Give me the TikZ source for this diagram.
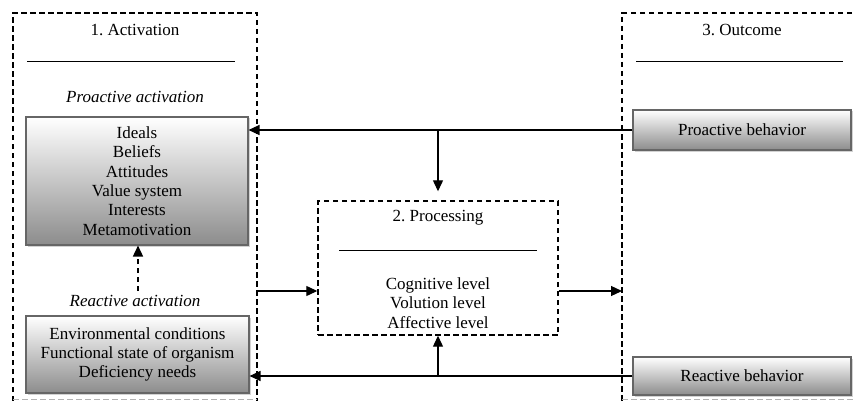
\documentclass[tikz,border=0pt]{standalone}
\usepackage{fontspec}
\setmainfont{Liberation Serif}
\frenchspacing
\usetikzlibrary{shadows,arrows.meta,calc}
\begin{document}
\begin{tikzpicture}[x=1pt,y=-1pt,
  font=\fontsize{17}{19.4}\selectfont,
  grad/.style={draw=black!60, line width=1.1pt, top color=white, bottom color=black!45,
    drop shadow={shadow xshift=1.5pt,shadow yshift=-1.5pt,opacity=0.35},
    inner sep=0pt, align=center},
  frame/.style={draw, line width=1.4pt, dash pattern=on 5.5pt off 3.5pt},
  conn/.style={line width=1.2pt, -{Triangle[length=11pt,width=10pt]}},
  rulestyle/.style={line width=0.9pt},
  lbl/.style={inner sep=0pt, align=center},
]
\clip (0,0) rectangle (853,401);
\fill[white] (0,0) rectangle (853,401);

% frames
\draw[frame] (13,401) -- (13,13) -- (257,13) -- (257,401);
\draw[frame, draw=black!30] (13,399.5) -- (257,399.5);
\draw[frame] (870,13) -- (622,13) -- (622,401);
\draw[frame, draw=black!30] (622,399.5) -- (853,399.5);
\node[frame, minimum width=240pt, minimum height=134pt, inner sep=0pt] (pr) at (438,268) {};

% titles and rules
\node[lbl] (t1) at (135,30) {1.\ Activation};
\draw[rulestyle] (27,61) -- (235,61);
\node[lbl] (t3) at (742,30) {3.\ Outcome};
\draw[rulestyle] (636,61) -- (843,61);
\node[lbl] (t2) at (438,218) {2.\ Processing};
\draw[rulestyle] (339,250) -- (537,250);
\node[lbl] (plev) at (438,303) {Cognitive level\\Volution level\\Affective level};

\node[lbl, font=\fontsize{17}{19.4}\selectfont\itshape] (plab) at (135,97) {Proactive activation};
\node[lbl, font=\fontsize{17}{19.4}\selectfont\itshape] (rlab) at (135,301) {Reactive activation};

% boxes
\node[grad, minimum width=222pt, minimum height=128pt] (pa) at (137,181)
  {Ideals\\Beliefs\\Attitudes\\Value system\\Interests\\Metamotivation};
\node[grad, minimum width=223pt, minimum height=77pt] (ra) at (137.5,354.5)
  {Environmental conditions\\Functional state of organism\\Deficiency needs};
\node[grad, minimum width=218pt, minimum height=40pt] (pb) at (742,130) {Proactive behavior};
\node[grad, minimum width=218pt, minimum height=38pt] (rb) at (742,376) {Reactive behavior};

% connectors
\coordinate (actR) at (257,291);
\coordinate (outL) at (622,291);
\coordinate (dstart) at ([xshift=3pt,yshift=4pt]rlab.north);
\draw[conn] (pb.west) -- (pa.east |- pb.west);
\draw[conn] (pb.west -| pr.north) -- ($(pr.north)+(0,-9)$);
\draw[conn] (rb.west) -- (ra.east |- rb.west);
\draw[conn] (rb.west -| pr.south) -- (pr.south);
\draw[conn] (actR) -- (pr.west |- actR);
\draw[conn] (pr.east |- outL) -- (outL);
\draw[conn, line width=1.6pt, dash pattern=on 5pt off 4pt] (dstart) -- (pa.south -| dstart);
\end{tikzpicture}
\end{document}
